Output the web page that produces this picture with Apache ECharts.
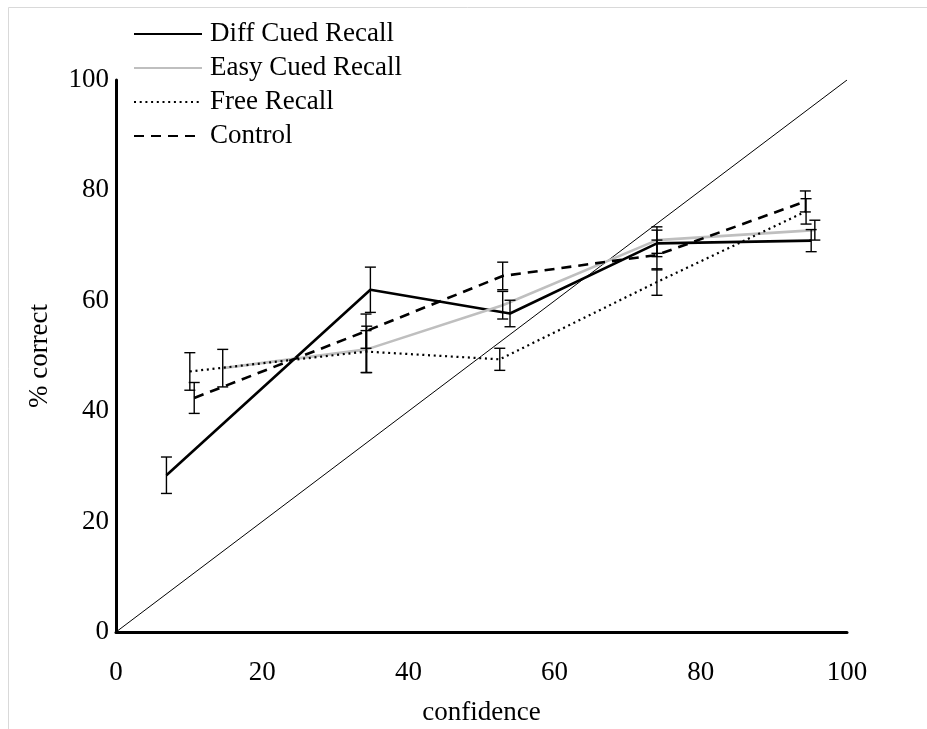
<!DOCTYPE html>
<html>
<head>
<meta charset="utf-8">
<script src="https://cdn.jsdelivr.net/npm/echarts@6/dist/echarts.min.js"></script>
<style>
html,body{margin:0;padding:0;background:#fff;}
#chart{width:927px;height:729px;}
</style>
</head>
<body>
<div id="chart"></div>
<script>
// ---- data ----
const xTicks = [0, 20, 40, 60, 80, 100];
const yTicks = [0, 20, 40, 60, 80, 100];
const seriesNames = ['Diff Cued Recall', 'Easy Cued Recall', 'Free Recall', 'Control'];

const diffX = [6.9, 34.8, 53.9, 74.0, 95.1];
const diffY = [28.4, 62.0, 57.7, 70.4, 70.9];
const diffErr = [3.3, 4.1, 2.4, 2.4, 2.0];

const easyX = [14.6, 34.3, 52.9, 74.0, 95.6];
const easyY = [47.8, 51.2, 59.2, 71.0, 72.8];
const easyErr = [3.4, 4.2, 2.5, 2.4, 1.8];

const freeX = [10.1, 34.2, 52.5, 74.0, 94.4];
const freeY = [47.2, 50.8, 49.4, 63.4, 76.2];
const freeErr = [3.4, 3.8, 2.0, 2.4, 2.3];

const ctrlX = [10.7, 34.2, 52.9, 74.0, 94.3];
const ctrlY = [42.4, 54.5, 64.5, 68.3, 78.0];
const ctrlErr = [2.8, 3.1, 2.5, 2.7, 1.9];

const diagX = [0, 100];
const diagY = [0, 100];

// ---- build ----
const zip2 = (xs, ys) => xs.map((x, i) => [x, ys[i]]);
const zip3 = (xs, ys, es) => xs.map((x, i) => [x, ys[i], es[i]]);

const FONT = '"Liberation Serif", "Times New Roman", serif';

function errRender(params, api) {
  const x = api.value(0), y = api.value(1), e = api.value(2);
  const hi = api.coord([x, y + e]);
  const lo = api.coord([x, y - e]);
  const hw = 5.5;
  const st = { stroke: '#000', lineWidth: 1.4 };
  return {
    type: 'group',
    children: [
      { type: 'line', shape: { x1: hi[0], y1: hi[1], x2: lo[0], y2: lo[1] }, style: st },
      { type: 'line', shape: { x1: hi[0] - hw, y1: hi[1], x2: hi[0] + hw, y2: hi[1] }, style: st },
      { type: 'line', shape: { x1: lo[0] - hw, y1: lo[1], x2: lo[0] + hw, y2: lo[1] }, style: st }
    ]
  };
}

function lineSeries(name, xs, ys, color, type, width) {
  return {
    name: name, type: 'line', data: zip2(xs, ys),
    symbol: 'none', showSymbol: false, z: 3,
    lineStyle: { color: color, type: type, width: width },
    itemStyle: { color: color }
  };
}
function errSeries(xs, ys, es) {
  return { type: 'custom', renderItem: errRender, data: zip3(xs, ys, es), z: 4, silent: true };
}

const chart = echarts.init(document.getElementById('chart'), null, { renderer: 'canvas' });
chart.setOption({
  animation: false,
  backgroundColor: '#fff',
  graphic: [
    { type: 'line', shape: { x1: 8.5, y1: 7.5, x2: 927, y2: 7.5 }, style: { stroke: '#d9d9d9', lineWidth: 1 } },
    { type: 'line', shape: { x1: 8.5, y1: 7.5, x2: 8.5, y2: 729 }, style: { stroke: '#d9d9d9', lineWidth: 1 } }
  ],
  grid: { left: 116, right: 80, top: 80, bottom: 97, containLabel: false, outerBoundsMode: 'none' },
  xAxis: {
    type: 'value', min: xTicks[0], max: xTicks[xTicks.length - 1], interval: 20,
    name: 'confidence', nameLocation: 'middle', nameGap: 67,
    nameTextStyle: { fontFamily: FONT, fontSize: 27, color: '#000' },
    axisLine: { show: true, onZero: false, lineStyle: { color: '#000', width: 3 } },
    axisTick: { show: false },
    splitLine: { show: false },
    axisLabel: { fontFamily: FONT, fontSize: 27, color: '#000', margin: 27 }
  },
  yAxis: {
    type: 'value', min: yTicks[0], max: yTicks[yTicks.length - 1], interval: 20,
    name: '% correct', nameLocation: 'middle', nameGap: 63,
    nameTextStyle: { fontFamily: FONT, fontSize: 27, color: '#000' },
    axisLine: { show: true, onZero: false, lineStyle: { color: '#000', width: 3 } },
    axisTick: { show: false },
    splitLine: { show: false },
    axisLabel: { fontFamily: FONT, fontSize: 27, color: '#000', margin: 7 }
  },
  legend: {
    orient: 'vertical', left: 133, top: 19, padding: 0,
    itemWidth: 68, itemHeight: 30, itemGap: 4,
    data: seriesNames,
    textStyle: { fontFamily: FONT, fontSize: 27, color: '#000', lineHeight: 30, padding: [0, 0, 0, 3] },
    itemStyle: { opacity: 0 }
  },
  series: [
    { name: 'diag', type: 'line', data: zip2(diagX, diagY), symbol: 'none', z: 2,
      lineStyle: { color: '#000', width: 1 }, silent: true },
    lineSeries(seriesNames[0], diffX, diffY, '#000000', 'solid', 2.6),
    lineSeries(seriesNames[1], easyX, easyY, '#bfbfbf', 'solid', 2.6),
    lineSeries(seriesNames[2], freeX, freeY, '#000000', [2, 3.7], 2.2),
    lineSeries(seriesNames[3], ctrlX, ctrlY, '#000000', [10, 7], 2.6),
    errSeries(diffX, diffY, diffErr),
    errSeries(easyX, easyY, easyErr),
    errSeries(freeX, freeY, freeErr),
    errSeries(ctrlX, ctrlY, ctrlErr)
  ]
});
</script>
</body>
</html>
